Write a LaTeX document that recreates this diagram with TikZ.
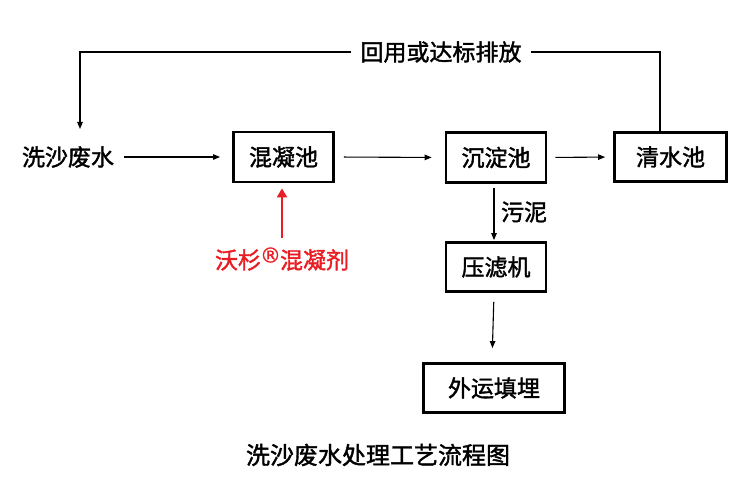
\documentclass[tikz,border=0pt]{standalone}
\usepackage{fontspec}
\setmainfont{Noto Sans CJK SC}[FakeBold=1.6]
\newfontfamily\symf{DejaVu Sans}[FakeBold=1]
\usetikzlibrary{arrows.meta}
\definecolor{redc}{RGB}{232,30,36}
\tikzset{
  box/.style={draw, line width=2.8pt, inner sep=0pt, font=\fontsize{23}{27}\selectfont},
  plain/.style={inner sep=0pt, font=\fontsize{23}{27}\selectfont},
  arr/.style={line width=1.1pt, -{Triangle[length=7pt,width=5.5pt]}},
  redarr/.style={draw=redc, line width=2.6pt, -{Triangle[length=9pt,width=10pt]}},
  ln/.style={line width=1.1pt}
}
\begin{document}
\begin{tikzpicture}[x=1pt,y=-1pt]
\useasboundingbox[fill=white] (0,0) rectangle (752,492);
% nodes
\node[plain] (src) at (68,157) {洗沙废水};
\node[box, minimum width=100pt, minimum height=50pt] (hn) at (283.5,157) {混凝池};
\node[box, minimum width=100pt, minimum height=50pt] (cd) at (496,157.5) {沉淀池};
\node[box, minimum width=112pt, minimum height=49pt] (qs) at (670.5,157) {清水池};
\node[box, minimum width=100pt, minimum height=49pt] (yl) at (496,267) {压滤机};
\node[box, minimum width=141pt, minimum height=49pt] (wy) at (494,388) {外运填埋};
\node[plain, inner xsep=9pt] (top) at (441,52) {回用或达标排放};
\node[plain] (sl) at (524,212) {污泥};
\node[plain, text=redc] (red) at (282,259) {沃杉\hspace{-1pt}\raisebox{6pt}{\symf\fontsize{21}{21}\selectfont ®}\hspace{-1pt}混凝剂};
\node[plain, font=\fontsize{24}{28}\selectfont] (title) at (378,455) {洗沙废水处理工艺流程图};
\coordinate (fbL) at (80,129);
% connectors
\draw[arr, shorten <=10pt, shorten >=12pt] (src.east) -- (hn.west);
\draw[arr, shorten <=9pt, shorten >=13pt] (hn.east) -- (cd.west);
\draw[arr, shorten <=8pt, shorten >=8pt] (cd.east) -- (qs.west);
\draw[arr, shorten <=4pt, shorten >=1pt] ([xshift=-2pt]cd.south) -- ([xshift=-2pt]yl.north);
\draw[arr, shorten <=9pt, shorten >=14pt] ([xshift=-2pt]yl.south) -- ([xshift=-2pt]wy.north);
\draw[ln] ([xshift=-10.5pt]qs.north) |- (top.east);
\draw[arr] (top.west) -| (fbL);
\draw[redarr, shorten <=9pt, shorten >=5pt] (red.north) -- (red.north |- hn.south);
\end{tikzpicture}
\end{document}
